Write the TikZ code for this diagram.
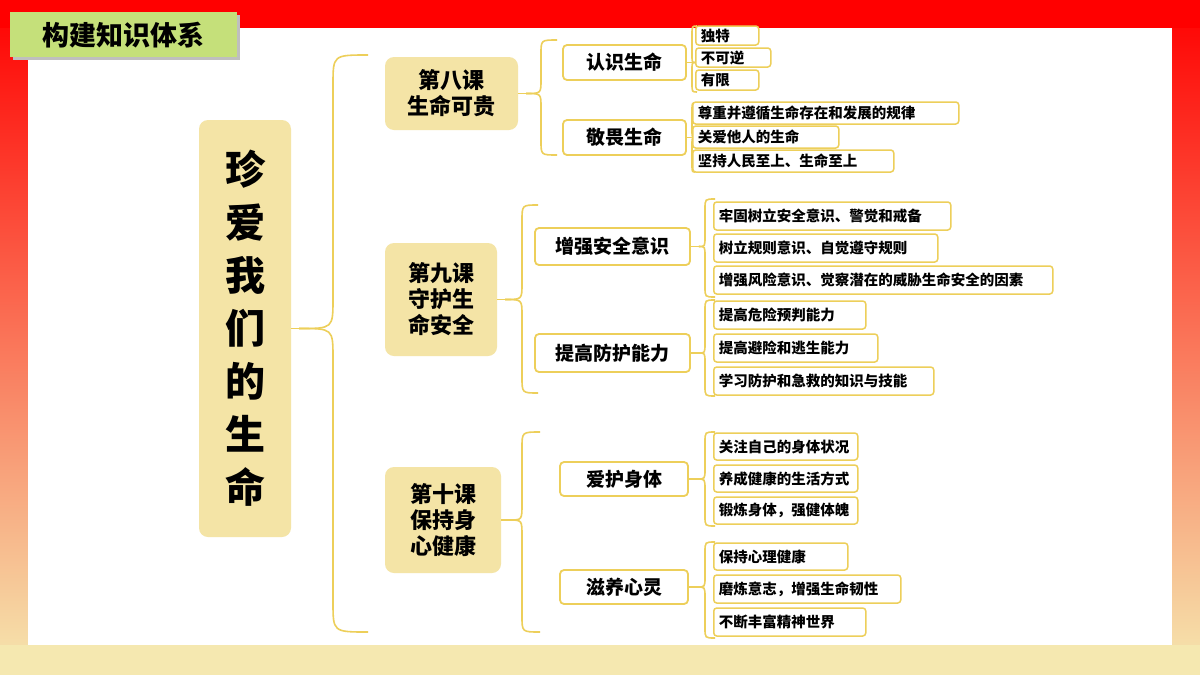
\documentclass[tikz,border=0pt]{standalone}
\usepackage{fontspec}
\setmainfont{Noto Sans CJK SC}[BoldFont={Noto Sans CJK SC Black}]
\usetikzlibrary{calc}
\begin{document}
\begin{tikzpicture}[x=1pt,y=-1pt,
  line/.style={draw=gold,line width=1.6pt},
  lesson/.style={fill=lfill,rounded corners=9pt,font=\bfseries\fontsize{22}{26}\selectfont,align=center,inner sep=0pt},
  topic/.style={draw=gold,line width=1.8pt,fill=white,rounded corners=4pt,font=\bfseries\fontsize{19}{22}\selectfont,inner sep=0pt},
  leaf/.style={draw=gold,line width=1.5pt,fill=white,rounded corners=3pt,font=\bfseries\fontsize{14.5}{17}\selectfont,inner sep=0pt,anchor=west,align=left}]
\definecolor{gold}{HTML}{EDCF5A}
\definecolor{lfill}{HTML}{F4E4A6}
\definecolor{pale}{HTML}{F5E8B0}
\definecolor{tagc}{HTML}{C5E07A}
\useasboundingbox (0,0) rectangle (1200,675);
\shade[top color=red, middle color=red!55!white, bottom color=pale] (0,0) rectangle (1200,675);
\fill[red] (0,0) rectangle (1200,28);
\fill[pale] (0,645) rectangle (1200,675);
\fill[white] (28,28) rectangle (1172,645);
\fill[gray!50] (13,15) rectangle (240,60);
\node[fill=tagc,minimum width=227pt,minimum height=45pt,anchor=north west,font=\bfseries\fontsize{27}{30}\selectfont,inner sep=0pt] (tag) at (10,12) {构建知识体系};
\newcommand{\mybox}[6]{\node[#1,minimum width=#3-#2,minimum height=#5-#4] (#6) at ({(#2+#3)/2},{(#4+#5)/2})}
\newcommand{\myleaf}[5]{\node[leaf,minimum width=#2-#1,minimum height=#4-#3,text width=#2-#1-10pt] (#5) at ({#1},{(#3+#4)/2})}
\newcommand{\mybrace}[6]{\draw[line] (#1.east) -- ++(8,0) coordinate (b#1);
  \coordinate (s#1) at (#2,0);
  \coordinate (m#1) at (b#1 -| s#1);
  \coordinate (t#1) at (#2,#3);
  \coordinate (u#1) at (#2,#4);
  \draw[line] (b#1) .. controls (m#1) .. ($(m#1)+(0,-#6)$) -- ($(t#1)+(0,#6)$) .. controls (t#1) .. (#5,#3);
  \draw[line] (b#1) .. controls (m#1) .. ($(m#1)+(0,#6)$) -- ($(u#1)+(0,-#6)$) .. controls (u#1) .. (#5,#4);}
\mybox{lesson}{199}{291}{120}{537}{root} {};
\node[font=\bfseries\fontsize{40}{53}\selectfont,align=center] at (root) {珍\\爱\\我\\们\\的\\生\\命};
\mybrace{root}{333}{55}{632}{368}{30}
\mybox{lesson}{385}{518}{57}{130}{L8} {第八课\\生命可贵};
\mybox{lesson}{385}{497}{243}{356}{L9} {第九课\\守护生\\命安全};
\mybox{lesson}{385}{501}{467}{573}{L10} {第十课\\保持身\\心健康};
\mybrace{L8}{541}{40}{155}{557}{14}
\mybrace{L9}{522}{205}{393}{538}{16}
\mybrace{L10}{522}{432}{632}{540}{16}
\mybox{topic}{563}{686}{45}{80}{T1} {认识生命};
\mybox{topic}{563}{686}{120}{155}{T2} {敬畏生命};
\mybox{topic}{535}{690}{228}{265}{T3} {增强安全意识};
\mybox{topic}{535}{690}{334}{372}{T4} {提高防护能力};
\mybox{topic}{560}{688}{462}{496}{T5} {爱护身体};
\mybox{topic}{560}{688}{570}{604}{T6} {滋养心灵};
\mybrace{T1}{692}{26}{92}{697}{9}
\mybrace{T2}{692}{103}{172}{695}{9}
\mybrace{T3}{705}{199}{297}{715}{10}
\mybrace{T4}{705}{300}{396}{715}{10}
\mybrace{T5}{705}{432}{526}{715}{10}
\mybrace{T6}{705}{542}{638}{715}{10}
\myleaf{695}{758}{26}{45}{a1} {独特};
\myleaf{695}{770}{48}{67}{a2} {不可逆};
\myleaf{695}{758}{70}{90}{a3} {有限};
\myleaf{692}{958}{102}{124}{b1} {尊重并遵循生命存在和发展的规律};
\myleaf{692}{838}{126}{148}{b2} {关爱他人的生命};
\myleaf{692}{893}{150}{172}{b3} {坚持人民至上、生命至上};
\myleaf{713}{950}{202}{230}{c1} {牢固树立安全意识、警觉和戒备};
\myleaf{713}{937}{234}{262}{c2} {树立规则意识、自觉遵守规则};
\myleaf{713}{1052}{266}{294}{c3} {增强风险意识、觉察潜在的威胁生命安全的因素};
\myleaf{713}{865}{301}{329}{d1} {提高危险预判能力};
\myleaf{713}{877}{334}{362}{d2} {提高避险和逃生能力};
\myleaf{713}{933}{367}{395}{d3} {学习防护和急救的知识与技能};
\myleaf{713}{857}{433}{460}{e1} {关注自己的身体状况};
\myleaf{713}{857}{465}{492}{e2} {养成健康的生活方式};
\myleaf{713}{857}{497}{524}{e3} {锻炼身体，强健体魄};
\myleaf{713}{847}{543}{570}{f1} {保持心理健康};
\myleaf{713}{900}{575}{603}{f2} {磨炼意志，增强生命韧性};
\myleaf{713}{865}{608}{636}{f3} {不断丰富精神世界};
\end{tikzpicture}
\end{document}
